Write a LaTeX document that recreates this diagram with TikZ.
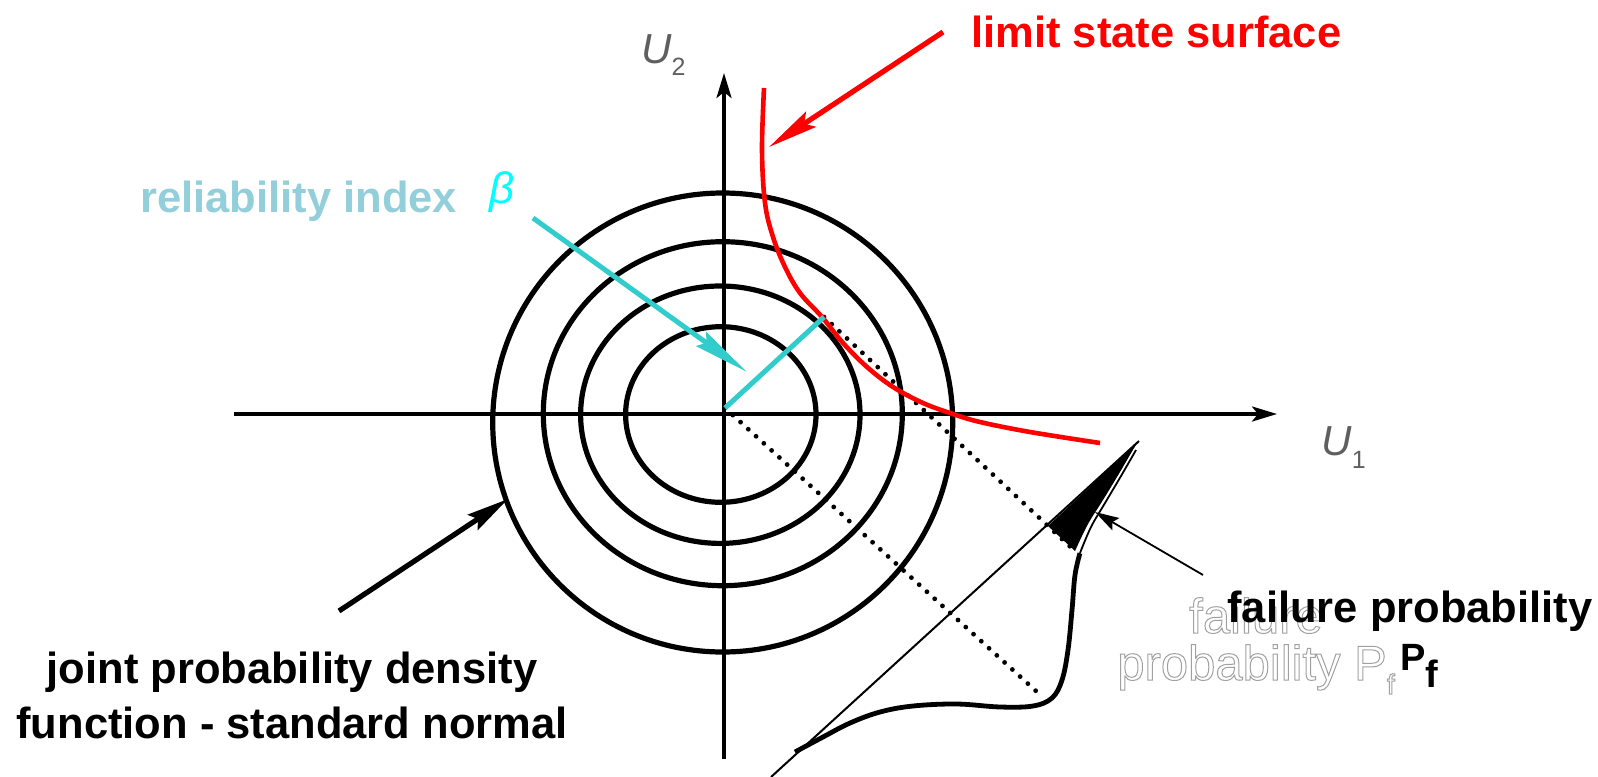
\documentclass[tikz,border=0pt]{standalone}
\usepackage{fontspec}
\setmainfont{Liberation Sans}
\usetikzlibrary{arrows.meta}
\definecolor{lsred}{RGB}{255,0,0}
\definecolor{relblue}{RGB}{146,207,219}
\definecolor{betacyan}{RGB}{0,255,255}
\definecolor{turq}{RGB}{51,204,204}
\definecolor{axgray}{RGB}{95,95,95}
\definecolor{ghostgray}{RGB}{160,160,160}
\begin{document}
\begin{tikzpicture}[x=0.5pt,y=-0.5pt,
  ring/.style={line width=2.6pt},
  axisline/.style={line width=1.8pt,-{Stealth[length=12.5pt,width=7.5pt,inset=3pt]}},
  bigtext/.style={inner sep=0pt,font=\fontsize{21.75}{27.5}\selectfont\bfseries},
  axlabel/.style={inner sep=0pt,text=axgray,font=\fontsize{21}{21}\selectfont\itshape,anchor=base west},
  redarrow/.style={draw=lsred,line width=2.6pt,-{Stealth[length=25pt,width=9pt,inset=4pt]}},
  cyanarrow/.style={draw=turq,line width=2.5pt,-{Stealth[length=28pt,width=8.5pt,inset=3pt]}},
  blackarrow/.style={draw=black,line width=2.6pt,-{Stealth[length=21pt,width=9pt,inset=3pt]}},
  thinarrow/.style={draw=black,line width=0.9pt,preaction={draw=white,line width=2.4pt},-{Stealth[length=12pt,width=7pt,inset=2pt]}},
  dotline/.style={line width=2.4pt,line cap=round,dash pattern=on 0pt off 5.25pt},
  limitcurve/.style={draw=lsred,line width=2.3pt},
  betaline/.style={draw=turq,line width=2.5pt},
  pdfcurve/.style={line width=2.4pt}]
\useasboundingbox (0,0) rectangle (1598,776);

% coordinates
\coordinate (O) at (725,408);
\coordinate (xl) at (234,414);
\coordinate (xr) at (1277,414);
\coordinate (yb) at (724,759);
\coordinate (yt) at (724,73);
\coordinate (dp) at (824,317);
\coordinate (d1end) at (1036,691);
\coordinate (d2end) at (1077,553);
\coordinate (tb) at (771,777);
\coordinate (tt) at (1139,441);
\coordinate (tri) at (1048,526);

% rings
\draw[ring] (720.8,414.5) ellipse [x radius=95.2, y radius=87.8];
\draw[ring] (720.3,414.7) ellipse [x radius=139.7, y radius=128.7];
\draw[ring] (722.8,413.7) ellipse [x radius=179.5, y radius=172];
\draw[ring] (722.7,422.5) ellipse [x radius=230, y radius=229.5];

% axes
\draw[axisline] (xl) -- (xr);
\draw[axisline] (yb) -- (yt);

% dotted projection lines
\draw[dotline] (O) -- (d1end);
\draw[dotline] (dp) -- (d2end);

% limit state surface
\draw[limitcurve] plot[smooth,tension=0.6] coordinates {(764,88) (762,150) (765,203) (773,237) (785,267) (800,293) (822,317) (843,343) (867,367) (893,387) (923,403) (953,414) (980,422) (1030,432) (1100,443)};

% pdf axis and curve
\draw[line width=1pt] (tb) -- (tt);
\fill (tri) -- (1075,551) -- plot[smooth,tension=0.6] coordinates {(1075,551) (1088,524) (1103,500) (1120,472) (1137,443)} -- cycle;
\draw[pdfcurve] plot[smooth,tension=0.6] coordinates {(795,752) (823,737) (850,723) (880,712) (913,706) (957,704) (1000,707) (1033,706) (1052,698) (1062,680) (1068,650) (1072,610) (1075,575) (1080,553)};
\draw[line width=0.9pt,preaction={draw=white,line width=2.4pt}] plot[smooth,tension=0.6] coordinates {(1080,553) (1091,527) (1105,503) (1121,476) (1136,450)};

% cyan beta line
\draw[betaline] (O) -- (dp);

% labels
\node[bigtext,text=lsred,anchor=base west] (lss) at (971,47) {limit state surface};
\node[bigtext,text=relblue,anchor=base west] (rel) at (140,212) {reliability index};
\node[inner sep=0pt,text=betacyan,font=\fontsize{22}{22}\selectfont\itshape,anchor=base west] (beta) at (489,203) {β};
\node[bigtext,align=center,anchor=base] (jpdf) at (292,738) {joint probability density\\function - standard normal};
\node[inner sep=0pt,align=center,text=ghostgray,font=\fontsize{24.5}{23.5}\selectfont,anchor=base] (ghost) at (1256,680) {\special{pdf:literal direct 1 Tr 0.5 w}failure\\probability P\raisebox{-7pt}{\fontsize{14}{14}\selectfont f}\special{pdf:literal direct 0 Tr}};
\node[bigtext,anchor=base west] (fp) at (1227,622) {failure probability};
\node[inner sep=0pt,font=\fontsize{19}{19}\selectfont\bfseries,anchor=base west] (pf) at (1400,670) {P\raisebox{-8.5pt}{f}};
\node[axlabel] (u2) at (641,63) {U\raisebox{-6pt}{\upshape\fontsize{12.5}{12.5}\selectfont 2}};
\node[axlabel] (u1) at (1321,455) {U\raisebox{-6.5pt}{\upshape\fontsize{12.5}{12.5}\selectfont 1}};

% arrow anchors
\coordinate (lsstail) at (943,32);
\coordinate (lsstip) at (769,147);
\coordinate (reltail) at (533,218);
\coordinate (reltip) at (747,372);
\coordinate (jtail) at (339,611);
\coordinate (jtip) at (508,499);
\coordinate (ftail) at (1203,575);
\coordinate (ftip) at (1095,512);

\draw[redarrow] (lsstail) -- (lsstip);
\draw[cyanarrow] (reltail) -- (reltip);
\draw[blackarrow] (jtail) -- (jtip);
\draw[thinarrow] (ftail) -- (ftip);
\end{tikzpicture}
\end{document}
